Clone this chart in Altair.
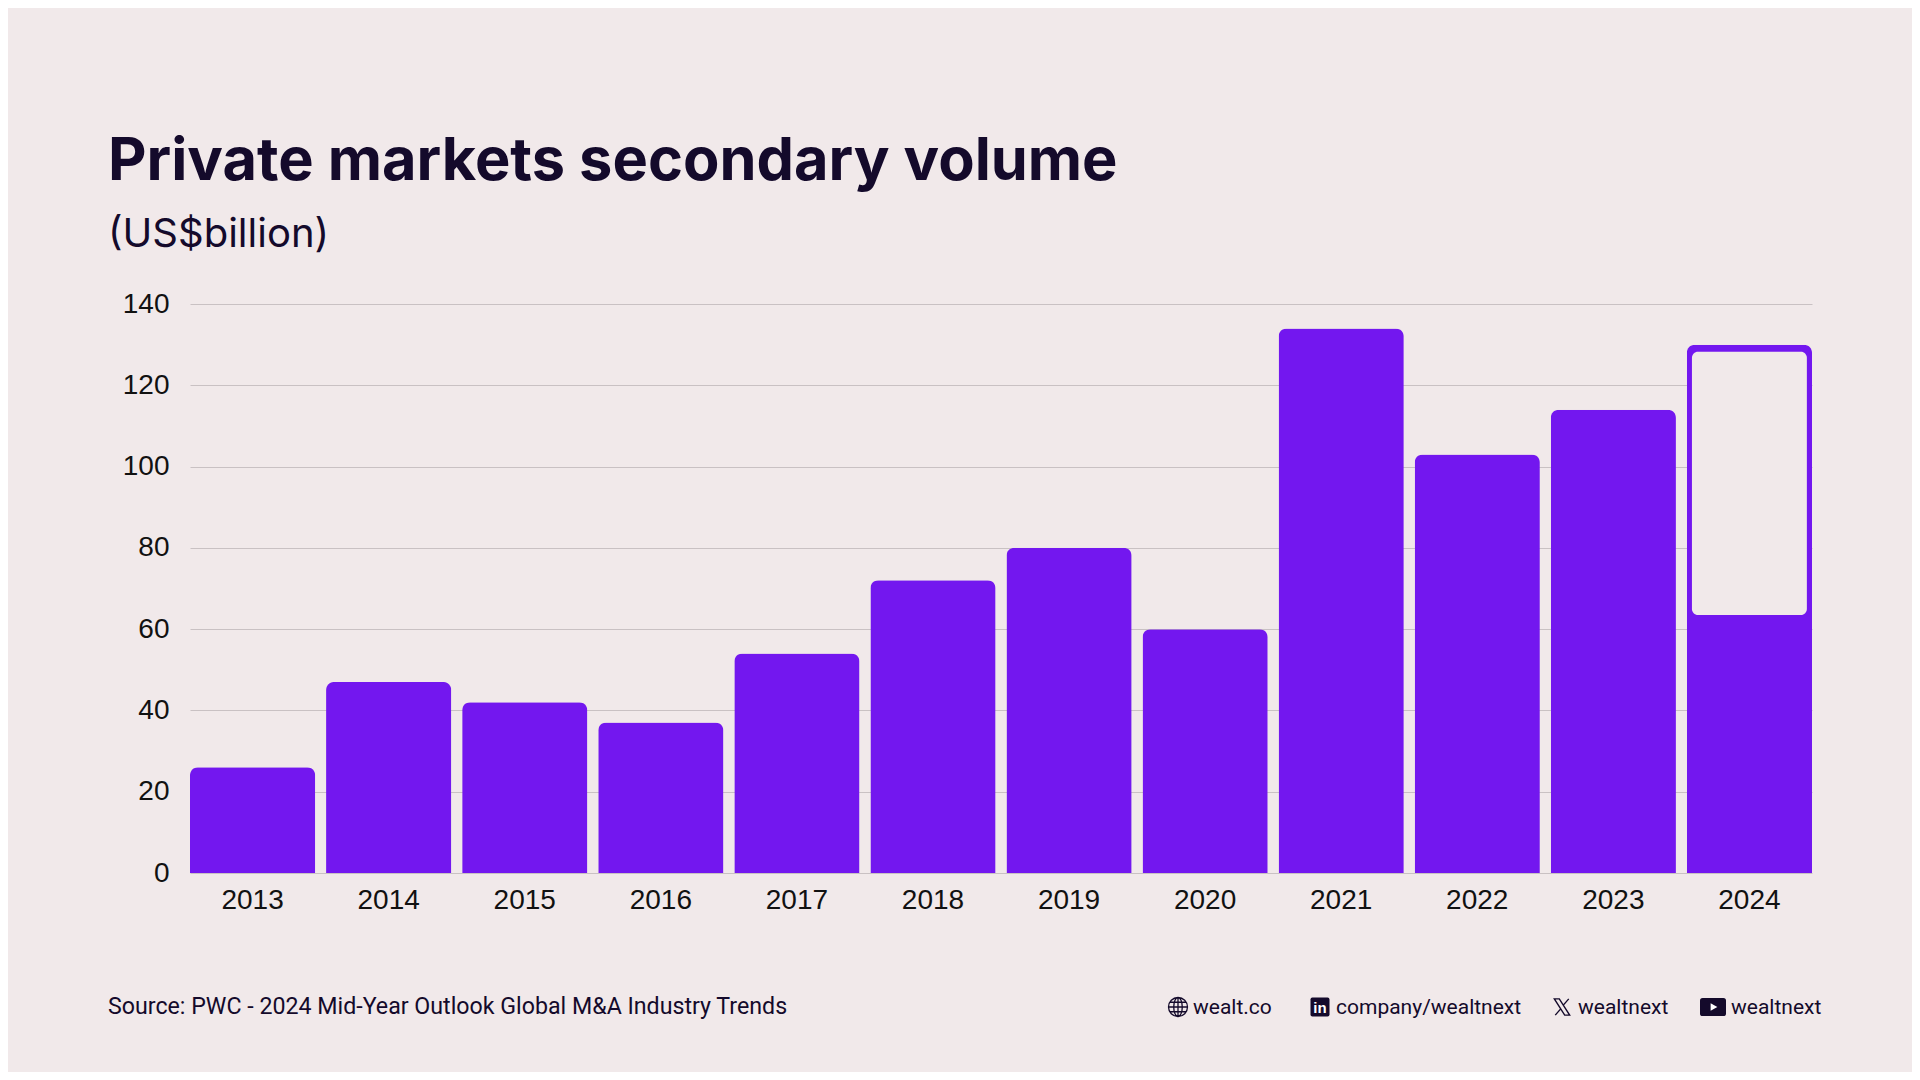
import altair as alt
import pandas as pd

# values (US$ billion)
years = ["2013", "2014", "2015", "2016", "2017", "2018",
         "2019", "2020", "2021", "2022", "2023", "2024"]
volume = [26, 47, 42, 37, 54, 72, 80, 60, 134, 103, 114, 130]
h1_2024 = 63.5          # solid part of the 2024 bar (first half)
y_ticks = [0, 20, 40, 60, 80, 100, 120, 140]

title = "Private markets secondary volume"
subtitle = "(US$billion)"
source = "Source: PWC - 2024 Mid-Year Outlook Global M&A Industry Trends"
handles = ["wealt.co", "company/wealtnext", "wealtnext", "wealtnext"]

BG = "#F1E9EA"
PURPLE = "#7317EF"
INK = "#140A2B"

df = pd.DataFrame({"year": years, "value": volume})
df24 = pd.DataFrame({"year": [years[-1]], "full": [volume[-1]], "h1": [h1_2024]})

x_enc = alt.X("year:O", sort=years, title=None,
              scale=alt.Scale(paddingInner=0.08, paddingOuter=0),
              axis=alt.Axis(labelAngle=0, ticks=False, tickSize=0, domain=False,
                            labelPadding=13, labelFont="Liberation Sans",
                            labelFontSize=28, labelColor="#111111"))

bars = alt.Chart(df).mark_bar(
    color=PURPLE, cornerRadiusTopLeft=8, cornerRadiusTopRight=8
).encode(
    x=x_enc,
    y=alt.Y("value:Q", title=None,
            scale=alt.Scale(domain=[0, 140], nice=False),
            axis=alt.Axis(values=y_ticks, ticks=False, tickSize=0, domain=False,
                          labelPadding=21, labelFont="Liberation Sans",
                          labelFontSize=28, labelColor="#111111",
                          gridColor="#C9C1C3", gridWidth=1.2))
)

# hollow upper part of the 2024 bar (second half not yet reported)
hollow = alt.Chart(df24).mark_bar(
    fill=BG, width=alt.RelativeBandSize(0.918), cornerRadius=6, yOffset=7
).encode(
    x=alt.X("year:O", sort=years),
    y="full:Q",
    y2="h1:Q",
)


def note(text, x, y, size, font="Roboto", weight=400, color=INK, align="left",
         baseline="alphabetic"):
    return alt.Chart(pd.DataFrame({"t": [text]})).mark_text(
        font=font, fontSize=size, fontWeight=weight, color=color,
        align=align, baseline=baseline
    ).encode(text="t:N", x=alt.value(x), y=alt.value(y))


def icon(shape, x, y, size, filled=True, color=INK, stroke_width=1.3):
    kw = dict(shape=shape, size=size, opacity=1, filled=filled)
    if filled:
        kw["fill"] = color
        kw["strokeWidth"] = 0
    else:
        kw["stroke"] = color
        kw["strokeWidth"] = stroke_width
    return alt.Chart(pd.DataFrame({"i": [0]})).mark_point(**kw).encode(
        x=alt.value(x), y=alt.value(y))


globe = ("M-1,0A1,1,0,1,1,1,0A1,1,0,1,1,-1,0Z "
         "M0,-1A0.45,1,0,1,1,0,1A0.45,1,0,1,1,0,-1Z "
         "M-1,0L1,0 M0,-1L0,1 M-0.87,-0.5L0.87,-0.5 M-0.87,0.5L0.87,0.5")
rounded_sq = ("M-1,-0.8Q-1,-1,-0.8,-1L0.8,-1Q1,-1,1,-0.8L1,0.8Q1,1,0.8,1"
              "L-0.8,1Q-1,1,-1,0.8Z")
x_logo = ("M-0.85,-0.9L-0.3,-0.9L0.85,0.9L0.3,0.9Z "
          "M0.75,-0.9L0.12,-0.18 M-0.12,0.18L-0.75,0.9")
yt_box = ("M-1,-0.5Q-1,-0.7,-0.8,-0.7L0.8,-0.7Q1,-0.7,1,-0.5L1,0.5Q1,0.7,0.8,0.7"
          "L-0.8,0.7Q-1,0.7,-1,0.5Z")

fy = 710   # footer baseline, relative to plot origin
texts = [
    note(title, -82, -124, 59.5, font="Inter", weight=700),
    note(subtitle, -82, -57, 40, font="Inter", weight=400),
    note(source, -82, fy, 23.2),
    icon(globe, 988, fy - 7, 361, filled=False),
    note(handles[0], 1003, fy, 21),
    icon(rounded_sq, 1130, fy - 7, 361),
    note("in", 1130, fy - 6, 15, font="Liberation Sans", weight=700,
         color="#FFFFFF", align="center", baseline="middle"),
    note(handles[1], 1146, fy, 21),
    icon(x_logo, 1372, fy - 7, 324, filled=False, stroke_width=1.4),
    note(handles[2], 1388, fy, 21),
    icon(yt_box, 1523, fy - 7, 676),
    icon("triangle-right", 1524, fy - 7, 60, color="#FFFFFF"),
    note(handles[3], 1541, fy, 21),
]

chart = alt.layer(bars, hollow, *texts).properties(
    width=1622,
    height=569,
    autosize=alt.AutoSizeParams(type="none"),
    padding={"left": 182, "top": 296, "right": 100, "bottom": 199},
).configure(
    background=BG
).configure_view(
    stroke=None
)

chart.save("out.html", embed_options={"renderer": "svg", "actions": False})
